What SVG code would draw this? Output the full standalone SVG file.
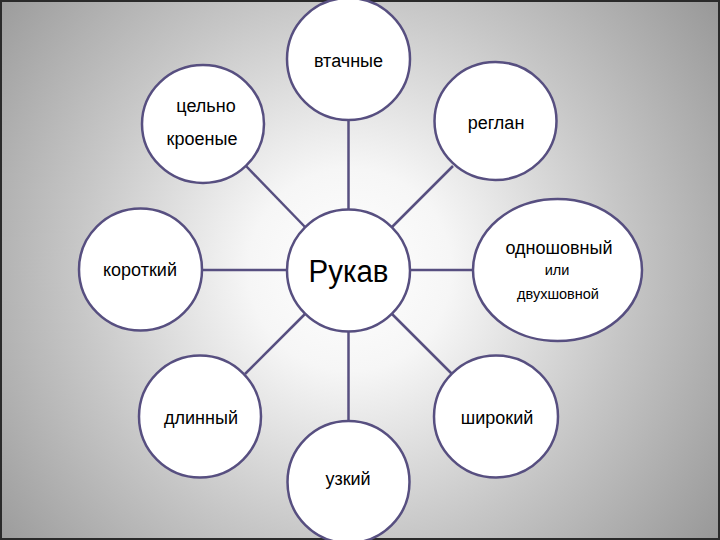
<svg xmlns="http://www.w3.org/2000/svg" width="720" height="540" viewBox="0 0 720 540">
  <defs>
    <radialGradient id="bg" gradientUnits="userSpaceOnUse" cx="350" cy="270" r="460">
      <stop offset="0" stop-color="#ffffff"/>
      <stop offset="0.22" stop-color="#f6f6f6"/>
      <stop offset="0.6" stop-color="#c6c6c6"/>
      <stop offset="1" stop-color="#979797"/>
    </radialGradient>
    <style>
      .node { fill: #ffffff; stroke: #574f80; stroke-width: 2.5; }
      .conn line { stroke: #574f80; stroke-width: 2.5; }
      .t { font-family: "Liberation Sans", Arial, sans-serif; font-size: 18px; fill: #000000; text-anchor: middle; }
      .big { font-size: 31px; }
      .sm { font-size: 14.5px; }
    </style>
  </defs>
  <rect x="0" y="0" width="720" height="540" fill="url(#bg)"/>
  <rect x="1" y="1" width="718" height="538" fill="none" stroke="#2a2a2a" stroke-width="2"/>

  <g id="connectors" class="conn">
    <line x1="348.5" y1="121" x2="348.5" y2="210"/>
    <line x1="348.5" y1="331" x2="348.5" y2="421"/>
    <line x1="202" y1="270" x2="287" y2="270"/>
    <line x1="410" y1="270" x2="473" y2="270"/>
    <line x1="246" y1="166" x2="306" y2="228"/>
    <line x1="453" y1="166" x2="391" y2="228"/>
    <line x1="306" y1="313" x2="245" y2="374"/>
    <line x1="391" y1="313" x2="452" y2="374"/>
  </g>

  <g id="node-center">
    <ellipse class="node" cx="348.5" cy="270.5" rx="61.5" ry="61"/>
    <text class="t big" x="348.5" y="282" textLength="80" lengthAdjust="spacingAndGlyphs">Рукав</text>
  </g>
  <g id="node-vtachnye">
    <ellipse class="node" cx="348.5" cy="59" rx="61.5" ry="61"/>
    <text class="t" x="348.5" y="67">втачные</text>
  </g>
  <g id="node-tselnokroenye">
    <ellipse class="node" cx="203" cy="124" rx="61" ry="59"/>
    <text class="t" x="206" y="112">цельно</text>
    <text class="t" x="202" y="145">кроеные</text>
  </g>
  <g id="node-reglan">
    <ellipse class="node" cx="495.5" cy="121" rx="61" ry="59"/>
    <text class="t" x="496" y="129">реглан</text>
  </g>
  <g id="node-korotkiy">
    <ellipse class="node" cx="140.5" cy="269.5" rx="61.5" ry="61"/>
    <text class="t" x="140" y="276">короткий</text>
  </g>
  <g id="node-odnoshovnyi">
    <ellipse class="node" cx="557.5" cy="270" rx="84.5" ry="71"/>
    <text class="t" x="559" y="254">одношовный</text>
    <text class="t sm" x="557" y="275">или</text>
    <text class="t sm" x="558" y="299">двухшовной</text>
  </g>
  <g id="node-dlinnyi">
    <ellipse class="node" cx="200" cy="416.5" rx="61" ry="61"/>
    <text class="t" x="201" y="424">длинный</text>
  </g>
  <g id="node-shirokiy">
    <ellipse class="node" cx="496" cy="416.5" rx="62" ry="61"/>
    <text class="t" x="497" y="424">широкий</text>
  </g>
  <g id="node-uzkiy">
    <ellipse class="node" cx="348.5" cy="482" rx="61" ry="61"/>
    <text class="t" x="348" y="485">узкий</text>
  </g>
</svg>
